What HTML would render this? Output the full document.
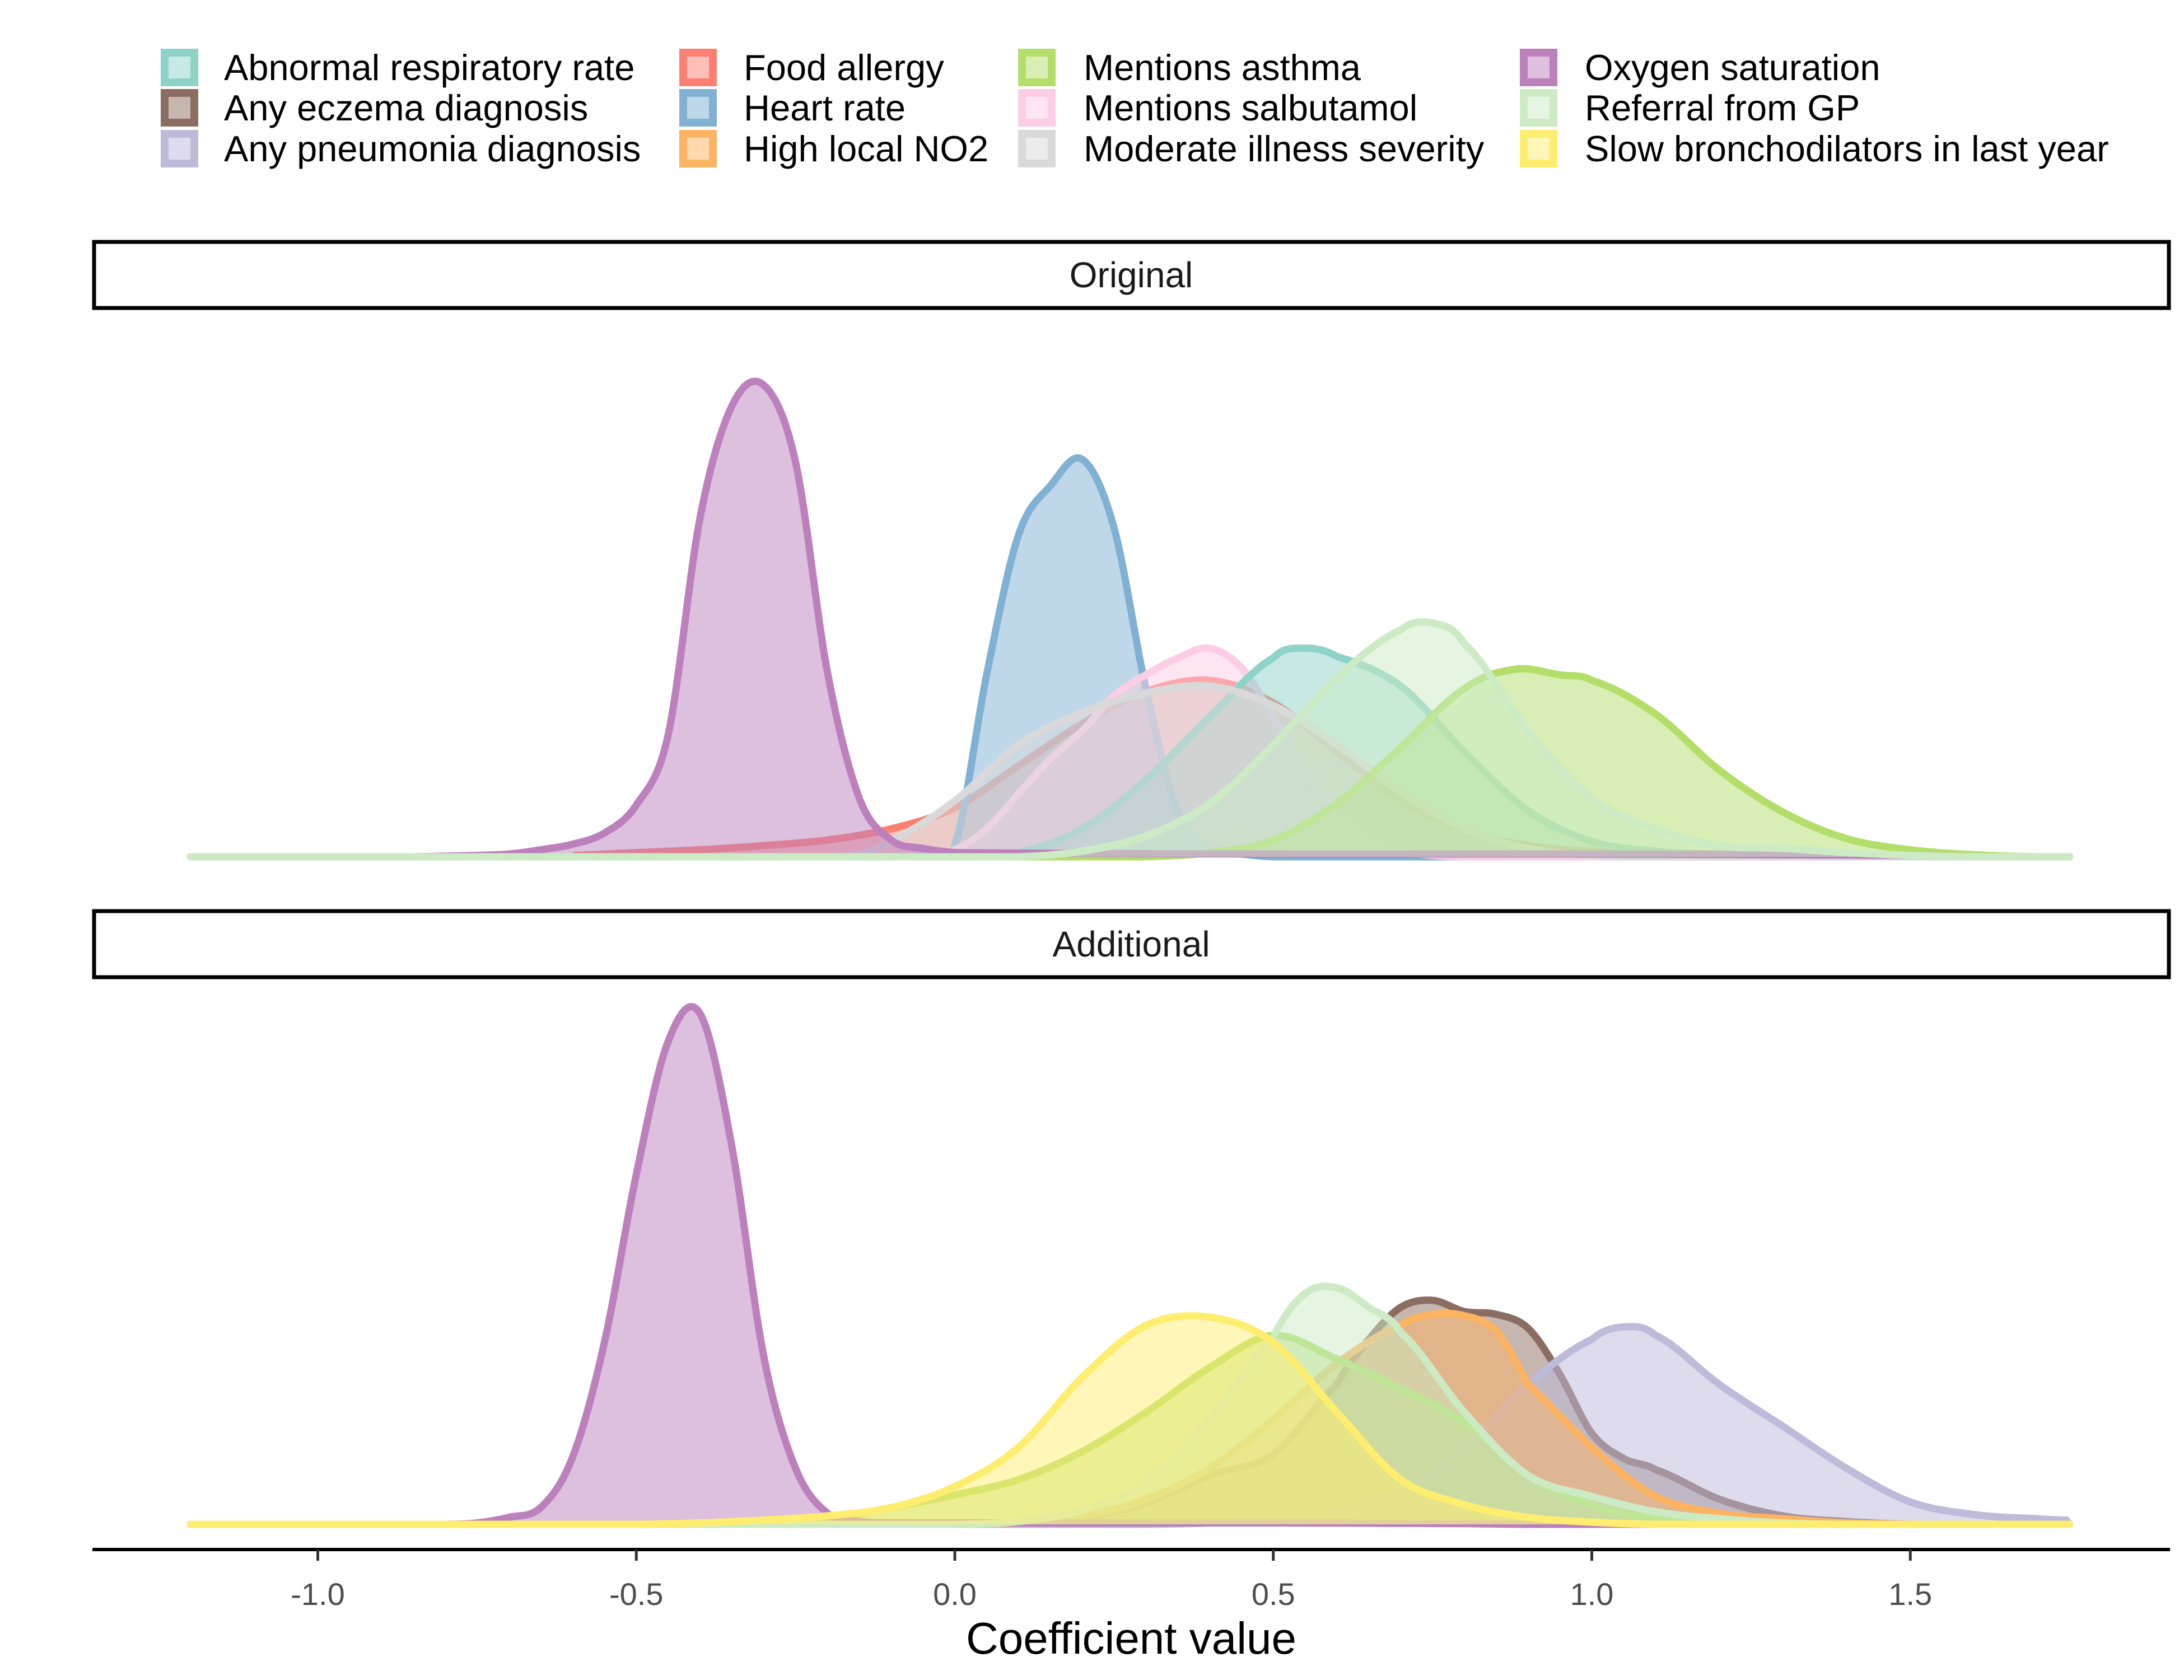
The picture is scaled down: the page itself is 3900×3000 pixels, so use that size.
<!DOCTYPE html>
<html><head><meta charset="utf-8">
<style>
html,body{margin:0;padding:0;background:#fff;}
svg{display:block;font-family:"Liberation Sans",Arial,sans-serif;}
</style></head>
<body>
<svg id="chart" width="3900" height="3000" viewBox="0 0 3900 3000" xmlns="http://www.w3.org/2000/svg">
<g id="legend"></g>
<g id="panel1"></g>
<g id="panel2"></g>
<g id="axis"></g>
</svg>
<script>
// ---- data (density values x100) ----
const legendNames = ["Abnormal respiratory rate","Any eczema diagnosis","Any pneumonia diagnosis","Food allergy","Heart rate","High local NO2","Mentions asthma","Mentions salbutamol","Moderate illness severity","Oxygen saturation","Referral from GP","Slow bronchodilators in last year"];
const legendColors = ["#8dd3c7","#8c6d62","#bebada","#fb8072","#80b1d3","#fdb462","#b3de69","#fccde5","#d9d9d9","#bc80bd","#ccebc5","#ffed6f"];
const xTicks = [-1.0,-0.5,0.0,0.5,1.0,1.5];
const xTickLabels = ["-1.0","-0.5","0.0","0.5","1.0","1.5"];

// Panel: Original
const p1FoodX = [-0.6,-0.5,-0.4,-0.3,-0.2,-0.1,0,0.1,0.2,0.3,0.4,0.5,0.6,0.7,0.8,0.9,1.0,1.1,1.2,1.3,1.4];
const p1FoodY = [1,3,5,8,12,20,35,65,95,118,126,110,75,40,18,8,4,3,2,1,0];
const p1HeartX = [-0.1,-0.05,0,0.05,0.1,0.15,0.2,0.25,0.3,0.35,0.4,0.45,0.5];
const p1HeartY = [0,1,8,130,230,265,284,235,120,32,6,2,0];
const p1SalbX = [-0.05,0,0.05,0.1,0.15,0.2,0.25,0.3,0.35,0.4,0.45,0.5,0.55,0.6,0.65,0.7,0.75,0.8];
const p1SalbY = [0,5,20,45,70,90,115,130,142,149,135,100,60,30,12,4,1,0];
const p1ModX = [-0.2,-0.15,-0.1,0,0.1,0.2,0.3,0.4,0.5,0.6,0.7,0.8,0.9,1.0,1.1];
const p1ModY = [0,2,12,40,80,103,117,122,108,80,47,20,6,1,0];
const p1AbnX = [0,0.1,0.2,0.3,0.4,0.5,0.55,0.6,0.7,0.8,0.9,1.0,1.1,1.2,1.3];
const p1AbnY = [0,3,20,55,100,142,149,143,122,75,33,11,4,1,0];
const p1AsthX = [0.3,0.4,0.5,0.6,0.7,0.8,0.88,0.95,1.0,1.1,1.2,1.3,1.4,1.5,1.6,1.7];
const p1AsthY = [0,3,12,38,78,120,134,130,126,102,62,32,13,5,1.5,0];
const p1OxyX = [-0.85,-0.8,-0.75,-0.7,-0.65,-0.6,-0.55,-0.5,-0.45,-0.4,-0.35,-0.3,-0.25,-0.2,-0.15,-0.1,-0.05,0,0.5,1.0,1.5,1.6];
const p1OxyY = [0,0.5,1,2,5,9,17,37,87,242,322,337,282,132,42,12,6,3,2,2,1,0];
const p1RefX = [0.1,0.2,0.3,0.4,0.5,0.6,0.7,0.75,0.8,0.9,1.0,1.1,1.2,1.3,1.4,1.5,1.6];
const p1RefY = [0,4,15,38,80,128,162,167,152,90,42,20,8,6,3,1,0];

// Panel: Additional
const p2EczX = [0.0,0.1,0.2,0.3,0.4,0.5,0.6,0.65,0.7,0.75,0.8,0.85,0.9,0.95,1.0,1.05,1.1,1.2,1.3,1.4,1.5];
const p2EczY = [0,1,5,15,35,50,100,132,155,160,152,150,140,107,65,47,39,18,6,2,0];
const p2PneuX = [0.3,0.4,0.5,0.6,0.7,0.8,0.9,1.0,1.05,1.1,1.2,1.3,1.4,1.5,1.6,1.7,1.75];
const p2PneuY = [0,1,4,10,25,55,100,132,141,135,100,70,40,16,7,4,3];
const p2NO2X = [0.0,0.1,0.2,0.3,0.4,0.5,0.6,0.7,0.75,0.8,0.85,0.9,1.0,1.1,1.2,1.3,1.4,1.5];
const p2NO2Y = [0,1,6,18,40,75,115,142,150,149,138,100,55,20,8,4,1,0];
const p2AsthX = [-0.4,-0.3,-0.2,-0.1,0,0.1,0.2,0.3,0.4,0.5,0.6,0.7,0.8,0.9,1.0,1.1,1.2,1.3];
const p2AsthY = [0,1,4,12,21,32,52,80,112,135,118,97,73,35,14,4,1,0];
const p2OxyX = [-0.8,-0.75,-0.7,-0.65,-0.6,-0.55,-0.5,-0.45,-0.4,-0.35,-0.3,-0.25,-0.2,-0.15,-0.1,0.5,0.8,0.9];
const p2OxyY = [0,1,5,12,48,130,250,345,365,270,120,40,8,2,1,1,0.5,0];
const p2RefX = [0.0,0.1,0.2,0.3,0.4,0.5,0.55,0.6,0.65,0.7,0.8,0.9,1.0,1.1,1.2,1.3,1.4];
const p2RefY = [0,2,10,30,75,134,165,169,155,137,80,35,20,9,4,1,0];
const p2SlowX = [-0.5,-0.4,-0.3,-0.2,-0.1,0,0.1,0.2,0.3,0.4,0.5,0.6,0.7,0.8,0.9,1.0,1.1];
const p2SlowY = [0,1,3,6,12,27,55,105,142,148,130,80,32,14,5,1.5,0];

const XMIN = -1.2, XMAX = 1.75;
const X0 = 1705, XU = 1137.5, YK = 2.5;
function sx(v){ return X0 + XU*v; }

function interp(xs, ys, v){
  if (v <= xs[0] || v >= xs[xs.length-1]) {
    if (v === xs[0]) return ys[0];
    if (v === xs[xs.length-1]) return ys[ys.length-1];
    return 0;
  }
  let i = 0;
  while (xs[i+1] < v) i++;
  const x1=xs[i], x2=xs[i+1];
  const y0 = i>0 ? ys[i-1] : ys[i], y1=ys[i], y2=ys[i+1], y3 = i+2<ys.length ? ys[i+2] : ys[i+1];
  const t=(v-x1)/(x2-x1);
  const t2=t*t, t3=t2*t;
  const r = 0.5*((2*y1)+(-y0+y2)*t+(2*y0-5*y1+4*y2-y3)*t2+(-y0+3*y1-3*y2+y3)*t3);
  return Math.max(0, r);
}

function drawSeries(g, base, xs, ys, color, name){
  const pts=[];
  const n=600;
  for(let k=0;k<=n;k++){
    const v = XMIN + (XMAX-XMIN)*k/n;
    pts.push([sx(v), base - YK*interp(xs,ys,v)]);
  }
  const line = pts.map((p,i)=>(i?'L':'M')+p[0].toFixed(1)+' '+p[1].toFixed(1)).join(' ');
  const area = line + ' L'+sx(XMAX).toFixed(1)+' '+base+' L'+sx(XMIN).toFixed(1)+' '+base+' Z';
  const f = document.createElementNS('http://www.w3.org/2000/svg','path');
  f.setAttribute('d', area); f.setAttribute('fill', color); f.setAttribute('fill-opacity','0.5'); f.setAttribute('stroke','none');
  
  
  g.appendChild(f);
  const l = document.createElementNS('http://www.w3.org/2000/svg','path');
  l.setAttribute('d', line); l.setAttribute('fill','none'); l.setAttribute('stroke', color); l.setAttribute('stroke-width','13'); l.setAttribute('stroke-linejoin','round'); l.setAttribute('stroke-linecap','round');
  
  
  g.appendChild(l);
}

function mk(tag, attrs, parent, text){
  const e=document.createElementNS('http://www.w3.org/2000/svg',tag);
  for(const k in attrs) e.setAttribute(k, attrs[k]);
  if(text!==undefined) e.textContent=text;
  parent.appendChild(e); return e;
}

// legend
const leg=document.getElementById('legend');
const colKeyX=[287,1213,1818,2714], colTextX=[400,1328,1935,2830], rowY=[120,192,265];
legendNames.forEach((nm,i)=>{
  const c=Math.floor(i/3), r=i%3;
  const box=mk('rect',{x:colKeyX[c]+7,y:rowY[r]-26,width:53,height:53,fill:legendColors[i],'fill-opacity':0.5,stroke:legendColors[i],'stroke-width':14},leg);
  
  
  const t=mk('text',{x:colTextX[c],y:rowY[r]+23,'font-size':65,fill:'#000'},leg,nm);
  
  
});

// strips
function strip(g, y, label){
  const r=mk('rect',{x:168,y:y,width:3705,height:118,fill:'#fff',stroke:'#000','stroke-width':7},g);
  
  
  const t=mk('text',{x:2020,y:y+81,'font-size':64,'text-anchor':'middle',fill:'#1a1a1a'},g,label);
  
  
}
const g1=document.getElementById('panel1'), g2=document.getElementById('panel2');
strip(g1, 432, 'Original');
strip(g2, 1627, 'Additional');

const B1=1530, B2=2722;
drawSeries(g1,B1,p1FoodX,p1FoodY,'#fb8072','food-allergy');
drawSeries(g1,B1,p1HeartX,p1HeartY,'#80b1d3','heart-rate');
drawSeries(g1,B1,p1SalbX,p1SalbY,'#fccde5','mentions-salbutamol');
drawSeries(g1,B1,p1AbnX,p1AbnY,'#8dd3c7','abnormal-respiratory-rate');
drawSeries(g1,B1,p1ModX,p1ModY,'#d9d9d9','moderate-illness-severity');
drawSeries(g1,B1,p1AsthX,p1AsthY,'#b3de69','mentions-asthma');
drawSeries(g1,B1,p1OxyX,p1OxyY,'#bc80bd','oxygen-saturation');
drawSeries(g1,B1,p1RefX,p1RefY,'#ccebc5','referral-from-gp');

drawSeries(g2,B2,p2EczX,p2EczY,'#8c6d62','any-eczema-diagnosis');
drawSeries(g2,B2,p2PneuX,p2PneuY,'#bebada','any-pneumonia-diagnosis');
drawSeries(g2,B2,p2NO2X,p2NO2Y,'#fdb462','high-local-no2');
drawSeries(g2,B2,p2AsthX,p2AsthY,'#b3de69','mentions-asthma');
drawSeries(g2,B2,p2OxyX,p2OxyY,'#bc80bd','oxygen-saturation');
drawSeries(g2,B2,p2RefX,p2RefY,'#ccebc5','referral-from-gp');
drawSeries(g2,B2,p2SlowX,p2SlowY,'#ffed6f','slow-bronchodilators');

// axis
const ax=document.getElementById('axis');
const al=mk('line',{x1:165,x2:3875,y1:2767,y2:2767,stroke:'#000','stroke-width':6},ax);


xTicks.forEach((v,i)=>{
  const tk=mk('line',{x1:sx(v),x2:sx(v),y1:2767,y2:2787,stroke:'#333','stroke-width':5},ax);
  
  
  const tl=mk('text',{x:sx(v),y:2866,'font-size':56,'text-anchor':'middle',fill:'#4d4d4d'},ax,xTickLabels[i]);
  
  
});
const tt=mk('text',{x:2020,y:2953,'font-size':80,'text-anchor':'middle',fill:'#000'},ax,'Coefficient value');


</script>
</body></html>
